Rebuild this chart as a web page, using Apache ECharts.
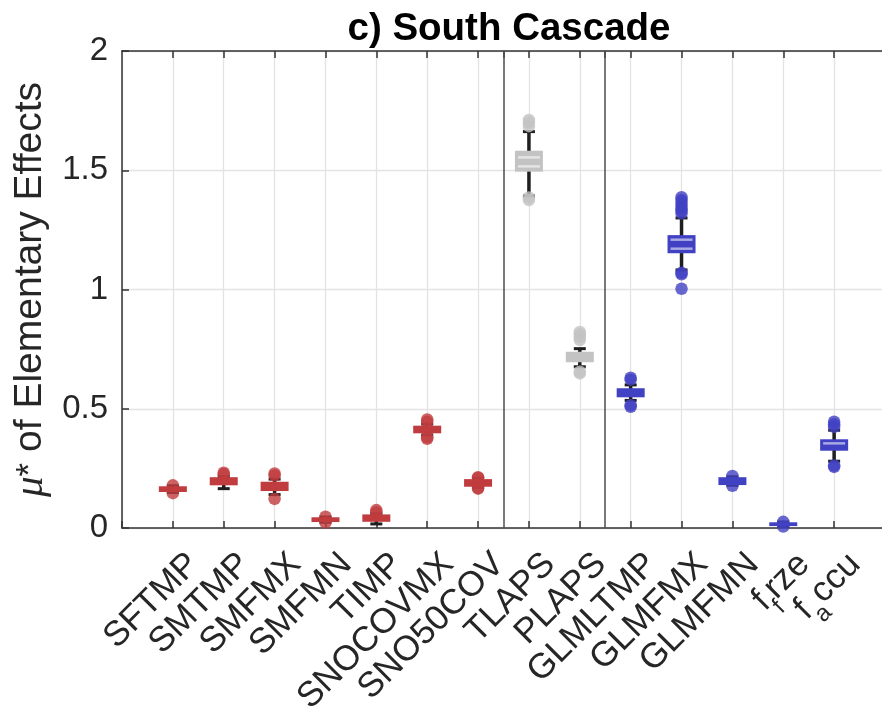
<!DOCTYPE html>
<html>
<head>
<meta charset="utf-8">
<script src="https://cdn.jsdelivr.net/npm/echarts@6/dist/echarts.min.js"></script>
<style>
  html, body { margin: 0; padding: 0; background: #ffffff; }
  #chart { width: 882px; height: 708px; }
</style>
</head>
<body>
<div id="chart"></div>
<script>
// Parameters in the sensitivity analysis (TeX-style "_" marks a one-character subscript)
const categories = ['SFTMP', 'SMTMP', 'SMFMX', 'SMFMN', 'TIMP', 'SNOCOVMX', 'SNO50COV',
                    'TLAPS', 'PLAPS', 'GLMLTMP', 'GLMFMX', 'GLMFMN', 'f_frze', 'f_accu'];
// 0 = snow parameters, 1 = lapse rates, 2 = glacier parameters
const groups = [0, 0, 0, 0, 0, 0, 0, 1, 1, 2, 2, 2, 2, 2];

// Box statistics of mu* per parameter
const whiskerLow  = [0.149, 0.165, 0.140, 0.024, 0.017, 0.390, 0.170, 1.392, 0.676, 0.535, 1.082, 0.179, 0.007, 0.280];
const q1          = [0.151, 0.179, 0.155, 0.025, 0.026, 0.397, 0.173, 1.494, 0.695, 0.548, 1.152, 0.180, 0.008, 0.324];
const median      = [0.163, 0.196, 0.175, 0.035, 0.042, 0.413, 0.189, 1.535, 0.717, 0.567, 1.190, 0.196, 0.016, 0.336];
const q3          = [0.175, 0.213, 0.194, 0.045, 0.057, 0.429, 0.205, 1.582, 0.739, 0.586, 1.228, 0.213, 0.024, 0.372];
const whiskerHigh = [0.177, 0.216, 0.205, 0.046, 0.060, 0.436, 0.208, 1.662, 0.752, 0.600, 1.300, 0.215, 0.025, 0.410];

// Outlying values per parameter
const outliers = [
  [0.146, 0.179],
  [0.225, 0.232],
  [0.122, 0.220, 0.229],
  [0.023, 0.047],
  [0.066, 0.075],
  [0.374, 0.380, 0.445, 0.455],
  [0.165, 0.168, 0.210, 0.213],
  [1.375, 1.386, 1.685, 1.700, 1.711],
  [0.648, 0.655, 0.788, 0.800, 0.812, 0.822],
  [0.508, 0.515, 0.622, 0.630],
  [1.003, 1.064, 1.070, 1.319, 1.330, 1.340, 1.352, 1.364, 1.375, 1.387],
  [0.177, 0.218],
  [0.006, 0.026],
  [0.256, 0.262, 0.424, 0.435, 0.446]
];

const yTicks = [0, 0.5, 1, 1.5, 2];
const groupSeparators = [7.5, 9.5];

// ---- styling ----
const FONT = '"Liberation Sans", Arial, Helvetica, sans-serif';
const AXIS_COLOR = '#333333';
const GRID_COLOR = '#E3E3E3';
const GROUP_COLORS = ['#C13C3F', '#C3C3C3', '#4141C3'];
const BOX_W = 28;
const CAP_W = 12;
const TICK_FONT = 33;
const XLABEL_FONT = 35;

const xPositions = categories.map((_, i) => i + 1);
const topTickValues = xPositions.concat(groupSeparators).sort((a, b) => a - b);

// "f_frze" -> f with subscript f, then "rze"
function richLabel(name) {
  const k = name.indexOf('_');
  if (k < 0) return '{n|' + name + '}';
  const base = name.slice(0, k);
  const sub = name.charAt(k + 1);
  const rest = name.slice(k + 2);
  return '{n|' + base + '}{s|' + sub + '}' + (rest ? '{n|' + rest + '}' : '');
}

const boxData = categories.map((c, i) => [xPositions[i], whiskerLow[i], q1[i], median[i], q3[i], whiskerHigh[i], groups[i]]);

const outlierData = [];
outliers.forEach((vals, i) => {
  vals.forEach(v => {
    outlierData.push({ value: [xPositions[i], v], itemStyle: { color: GROUP_COLORS[groups[i]] } });
  });
});

function renderBox(params, api) {
  const x = api.value(0);
  const lo = api.coord([x, api.value(1)]);
  const b1 = api.coord([x, api.value(2)]);
  const md = api.coord([x, api.value(3)]);
  const b3 = api.coord([x, api.value(4)]);
  const hi = api.coord([x, api.value(5)]);
  const color = GROUP_COLORS[api.value(6)];
  const cx = lo[0];
  const hb = BOX_W / 2, hc = CAP_W / 2;
  const children = [
    { type: 'line', shape: { x1: cx, y1: lo[1], x2: cx, y2: hi[1] }, style: { stroke: '#1f1f1f', lineWidth: 3.5 } },
    { type: 'line', shape: { x1: cx - hc, y1: lo[1], x2: cx + hc, y2: lo[1] }, style: { stroke: '#1f1f1f', lineWidth: 3 } },
    { type: 'line', shape: { x1: cx - hc, y1: hi[1], x2: cx + hc, y2: hi[1] }, style: { stroke: '#1f1f1f', lineWidth: 3 } },
    { type: 'rect', shape: { x: cx - hb, y: b3[1], width: BOX_W, height: b1[1] - b3[1] }, style: { fill: color } }
  ];
  // light double line around the median where the box is tall enough
  [-4.5, 4.5].forEach(d => {
    const y = md[1] + d;
    if (y - 1.3 > b3[1] + 1 && y + 1.3 < b1[1] - 1) {
      children.push({ type: 'line', shape: { x1: cx - hb + 3, y1: y, x2: cx + hb - 3, y2: y },
        style: { stroke: 'rgba(255,255,255,0.55)', lineWidth: 2.5 } });
    }
  });
  return { type: 'group', children: children };
}

const chart = echarts.init(document.getElementById('chart'), null, { renderer: 'canvas' });

const option = {
  animation: false,
  backgroundColor: '#ffffff',
  title: {
    text: 'c) South Cascade',
    left: 504,
    top: 5,
    textAlign: 'center',
    textStyle: { fontFamily: FONT, fontSize: 38.5, fontWeight: 'bold', color: '#000000' }
  },
  grid: { left: 122, top: 51, width: 763, height: 477, containLabel: false, outerBoundsMode: 'none' },
  xAxis: [
    {
      type: 'value',
      position: 'bottom',
      min: 0,
      max: 15,
      interval: 1,
      axisLine: { show: true, onZero: false, lineStyle: { color: AXIS_COLOR, width: 1.5 } },
      axisTick: { show: true, inside: true, length: 7, lineStyle: { color: AXIS_COLOR, width: 1.5 } },
      splitLine: { show: true, lineStyle: { color: GRID_COLOR, width: 1.3 } },
      axisLabel: {
        show: true,
        rotate: 45,
        margin: 10,
        verticalAlign: 'top',
        padding: [12, 0, 0, 0],
        color: '#262626',
        fontFamily: FONT,
        fontSize: XLABEL_FONT,
        formatter: function (v) {
          const i = Math.round(v) - 1;
          return (i >= 0 && i < categories.length) ? richLabel(categories[i]) : '';
        },
        rich: {
          n: { fontFamily: FONT, fontSize: XLABEL_FONT, lineHeight: 35, color: '#262626', verticalAlign: 'top' },
          s: { fontFamily: FONT, fontSize: 24, lineHeight: 24, color: '#262626', verticalAlign: 'top', padding: [22, 0, 0, 0] }
        }
      }
    },
    {
      type: 'value',
      position: 'top',
      min: 0,
      max: 15,
      interval: 1,
      axisLine: { show: true, onZero: false, lineStyle: { color: AXIS_COLOR, width: 1.5 } },
      axisTick: { show: true, inside: true, length: 7, customValues: topTickValues, lineStyle: { color: AXIS_COLOR, width: 1.5 } },
      axisLabel: { show: false },
      splitLine: { show: false }
    }
  ],
  yAxis: {
    type: 'value',
    min: yTicks[0],
    max: yTicks[yTicks.length - 1],
    interval: 0.5,
    name: '{mu|μ}{st|*}{t| of Elementary Effects}',
    nameLocation: 'middle',
    nameGap: 49,
    nameTextStyle: {
      fontFamily: FONT,
      fontSize: 39,
      color: '#262626',
      rich: {
        mu: { fontFamily: '"Liberation Serif", "DejaVu Serif", serif', fontStyle: 'italic', fontSize: 41, color: '#262626' },
        st: { fontFamily: FONT, fontSize: 35, color: '#262626' },
        t: { fontFamily: FONT, fontSize: 39, color: '#262626' }
      }
    },
    axisLine: { show: true, lineStyle: { color: AXIS_COLOR, width: 1.5 } },
    axisTick: { show: true, inside: true, length: 7, lineStyle: { color: AXIS_COLOR, width: 1.5 } },
    splitLine: { show: true, lineStyle: { color: GRID_COLOR, width: 1.3 } },
    axisLabel: { margin: 14, color: '#262626', fontFamily: FONT, fontSize: TICK_FONT }
  },
  series: [
    {
      type: 'custom',
      name: 'boxes',
      xAxisIndex: 0,
      yAxisIndex: 0,
      clip: false,
      z: 2,
      renderItem: renderBox,
      encode: { x: 0, y: [1, 2, 3, 4, 5] },
      data: boxData,
      silent: true
    },
    {
      type: 'scatter',
      name: 'outliers',
      xAxisIndex: 0,
      yAxisIndex: 0,
      clip: false,
      z: 3,
      symbol: 'circle',
      symbolSize: 12.5,
      data: outlierData,
      silent: true,
      markLine: {
        silent: true,
        symbol: 'none',
        label: { show: false },
        lineStyle: { color: '#4D4D4D', width: 1.5, type: 'solid' },
        emphasis: { disabled: true },
        data: groupSeparators.map(x => ({ xAxis: x }))
      }
    }
  ]
};

chart.setOption(option);
</script>
</body>
</html>
